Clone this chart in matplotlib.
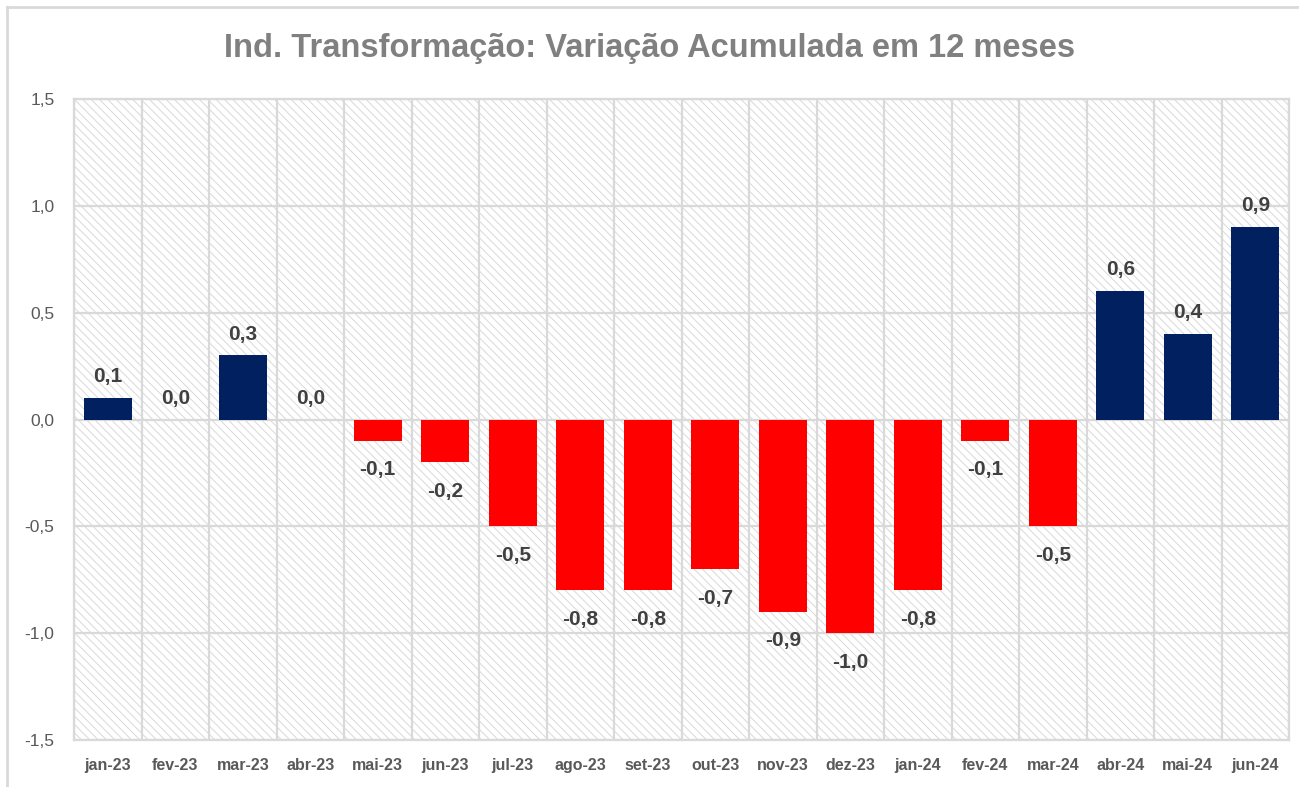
import matplotlib
matplotlib.use("Agg")
import matplotlib.pyplot as plt
from matplotlib.patches import Rectangle
from matplotlib.lines import Line2D
from matplotlib.ticker import FuncFormatter

categories = ["jan-23", "fev-23", "mar-23", "abr-23", "mai-23", "jun-23", "jul-23", "ago-23",
              "set-23", "out-23", "nov-23", "dez-23", "jan-24", "fev-24", "mar-24", "abr-24",
              "mai-24", "jun-24"]
values = [0.1, 0.0, 0.3, 0.0, -0.1, -0.2, -0.5, -0.8, -0.8, -0.7, -0.9, -1.0, -0.8, -0.1, -0.5,
          0.6, 0.4, 0.9]
title = "Ind. Transformação: Variação Acumulada em 12 meses"

POS = "#002060"
NEG = "#FF0000"
GRID = "#d9d9d9"

plt.rcParams['font.family'] = ['Liberation Sans', 'DejaVu Sans']
plt.rcParams['hatch.linewidth'] = 0.7

fig = plt.figure(figsize=(12.99, 7.87), dpi=100)
ax = fig.add_axes([74/1299, 1-740/787, (1289-74)/1299, (740-99)/787])

# hatched background
bg = Rectangle((0, 0), 1, 1, transform=ax.transAxes, facecolor="white",
               edgecolor=GRID, hatch="\\\\\\\\", linewidth=0, zorder=0)
ax.add_patch(bg)
ax.patch.set_visible(False)

x = list(range(len(categories)))
colors = [POS if v >= 0 else NEG for v in values]
ax.bar(x, values, width=0.71, color=colors, zorder=3)

for xi, v in zip(x, values):
    lab = f"{v:.1f}".replace(".", ",")
    if v >= 0:
        ax.annotate(lab, (xi, v), xytext=(0, 8.5), textcoords="offset points",
                    ha="center", va="bottom", fontsize=15, fontweight="bold", color="#404040", zorder=4)
    else:
        ax.annotate(lab, (xi, v), xytext=(0, -14), textcoords="offset points",
                    ha="center", va="top", fontsize=15, fontweight="bold", color="#404040", zorder=4)

ax.set_xlim(-0.5, len(categories) - 0.5)
ax.set_ylim(-1.5, 1.5)
ax.set_yticks([-1.5, -1.0, -0.5, 0.0, 0.5, 1.0, 1.5])
ax.yaxis.set_major_formatter(FuncFormatter(lambda v, p: f"{v:.1f}".replace(".", ",")))
ax.set_xticks(x)
ax.set_xticklabels(categories, fontsize=11.5, fontweight="bold", color="#595959")
ax.set_xticks([i + 0.5 for i in range(-1, len(categories))], minor=True)
ax.tick_params(axis="y", length=0, labelsize=12.5, labelcolor="#595959", pad=14)
ax.tick_params(axis="x", which="both", length=0, pad=13)

ax.grid(axis="y", which="major", color=GRID, linewidth=1.6, zorder=1)
ax.grid(axis="x", which="minor", color=GRID, linewidth=1.6, zorder=1)
ax.grid(axis="x", which="major", visible=False)
ax.set_axisbelow(True)
for s in ax.spines.values():
    s.set_color(GRID)
    s.set_linewidth(1.6)

fig.text(0.5, 1 - 48/787, title, ha="center", va="center", fontsize=23.5, fontweight="bold",
         color="#808080")

# outer chart border (top and left visible)
fig.add_artist(Line2D([7/1299, 1.0], [1-7/787, 1-7/787], transform=fig.transFigure, color=GRID, linewidth=2))
fig.add_artist(Line2D([7/1299, 7/1299], [0.0, 1-7/787], transform=fig.transFigure, color=GRID, linewidth=2))

fig.savefig("out.png", dpi=100, facecolor="white")
